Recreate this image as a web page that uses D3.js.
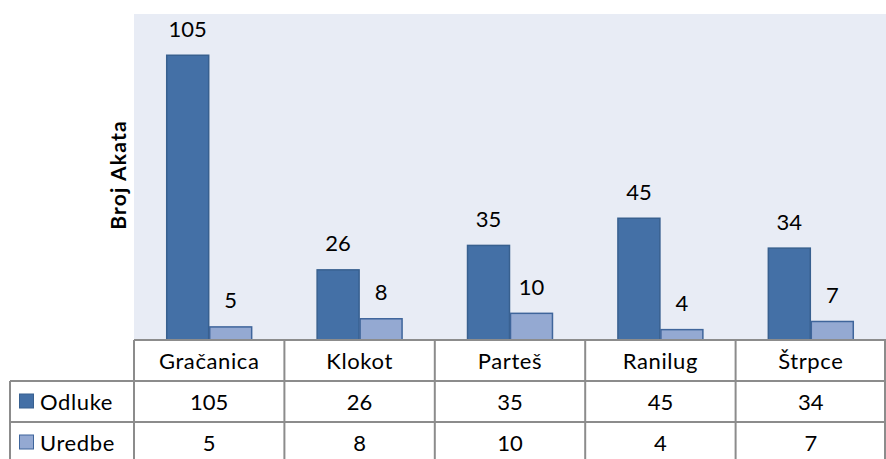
<!DOCTYPE html>
<html>
<head>
<meta charset="utf-8">
<script src="https://cdn.jsdelivr.net/npm/d3@7"></script>
<style>
  body { margin: 0; background: #fff; }
  svg { display: block; font-family: Lato, "Open Sans", sans-serif; }
</style>
</head>
<body>
<div id="svg-container"></div>
<script>
// data
const places = ["Gračanica", "Klokot", "Parteš", "Ranilug", "Štrpce"];
const seriesNames = ["Odluke", "Uredbe"];
const odluke = [105, 26, 35, 45, 34];
const uredbe = [5, 8, 10, 4, 7];
const yAxisTitle = "Broj Akata";

const width = 886, height = 459;
const plot = { left: 134, right: 886, top: 14, bottom: 340 };
const rowH = 41;
const fs = 22;
const colors = { Odluke: "#4470a6", Uredbe: "#94a9d2" };
const strokes = { Odluke: "#38608f", Uredbe: "#3f659b" };

const svg = d3.select("#svg-container").append("svg")
    .attr("width", width).attr("height", height);

// scales
const x0 = d3.scaleBand().domain(places).range([plot.left, plot.right]).paddingInner(0).paddingOuter(0);
const x1 = d3.scaleBand().domain(seriesNames).range([0, x0.bandwidth()]).paddingInner(0).paddingOuter(0.75);
const y = d3.scaleLinear().domain([0, 120]).range([plot.bottom, plot.top]);

const rows = seriesNames.map((s, i) => ({
    name: s,
    values: i === 0 ? odluke : uredbe
}));

// plot background
svg.append("rect")
    .attr("x", plot.left).attr("y", plot.top)
    .attr("width", plot.right - plot.left).attr("height", plot.bottom - plot.top)
    .attr("fill", "#e8ecf5");

// bars
const groups = svg.selectAll("g.series").data(rows).enter().append("g").attr("class", "series");
groups.selectAll("rect")
    .data((r) => r.values.map((v, i) => ({ name: r.name, place: places[i], v })))
    .enter().append("rect")
    .attr("x", (d) => x0(d.place) + x1(d.name) + 0.5)
    .attr("y", (d) => y(d.v) + 0.5)
    .attr("width", x1.bandwidth() - 1)
    .attr("height", (d) => y(0) - y(d.v) - 0.5)
    .attr("fill", (d) => colors[d.name])
    .attr("stroke", (d) => strokes[d.name])
    .attr("stroke-width", 1.5);

// value labels
groups.selectAll("text")
    .data((r) => r.values.map((v, i) => ({ name: r.name, place: places[i], v })))
    .enter().append("text")
    .attr("x", (d) => x0(d.place) + x1(d.name) + x1.bandwidth() / 2)
    .attr("y", (d) => y(d.v) - 18)
    .attr("text-anchor", "middle")
    .attr("font-size", fs)
    .attr("fill", "#000")
    .text((d) => d.v);

// y axis title
svg.append("text")
    .attr("transform", `translate(126,${(plot.top + plot.bottom) / 2 - 2}) rotate(-90)`)
    .attr("text-anchor", "middle")
    .attr("font-size", 21)
    .attr("font-weight", "bold")
    .attr("letter-spacing", 1.2)
    .text(yAxisTitle);

// data table
const table = svg.append("g");
const lineColor = "#8c8c8c";
const tableLeft = 10;

// header row (category names)
table.selectAll("text.cat").data(places).enter().append("text")
    .attr("class", "cat")
    .attr("x", (d) => x0(d) + x0.bandwidth() / 2)
    .attr("y", plot.bottom + rowH / 2 + 8)
    .attr("text-anchor", "middle")
    .attr("font-size", fs)
    .attr("letter-spacing", 0.6)
    .text((d) => d);

// value rows
rows.forEach((r, i) => {
    const ry = plot.bottom + rowH * (i + 1);
    table.selectAll(`text.v${i}`).data(r.values).enter().append("text")
        .attr("x", (d, j) => x0(places[j]) + x0.bandwidth() / 2)
        .attr("y", ry + rowH / 2 + 8)
        .attr("text-anchor", "middle")
        .attr("font-size", fs)
        .text((d) => d);

    table.append("rect")
        .attr("x", 19.5).attr("y", ry + rowH / 2 - 7.5)
        .attr("width", 14).attr("height", 14)
        .attr("fill", colors[r.name])
        .attr("stroke", strokes[r.name]);

    table.append("text")
        .attr("x", 40)
        .attr("y", ry + rowH / 2 + 8)
        .attr("font-size", fs)
        .attr("letter-spacing", 0.6)
        .text(r.name);
});

// grid lines
const lines = [];
// horizontal
lines.push([plot.left, plot.bottom, plot.right, plot.bottom]);
for (let i = 1; i <= 3; i++) {
    lines.push([tableLeft, plot.bottom + rowH * i, plot.right, plot.bottom + rowH * i]);
}
// vertical
lines.push([tableLeft, plot.bottom + rowH, tableLeft, plot.bottom + rowH * 3]);
places.forEach((p) => {
    lines.push([x0(p), plot.bottom, x0(p), plot.bottom + rowH * 3]);
});
lines.push([plot.right - 1, plot.bottom, plot.right - 1, plot.bottom + rowH * 3]);

table.selectAll("line").data(lines).enter().append("line")
    .attr("x1", (d) => d[0]).attr("y1", (d) => d[1])
    .attr("x2", (d) => d[2]).attr("y2", (d) => d[3])
    .attr("stroke", lineColor)
    .attr("stroke-width", 2);
</script>
</body>
</html>
